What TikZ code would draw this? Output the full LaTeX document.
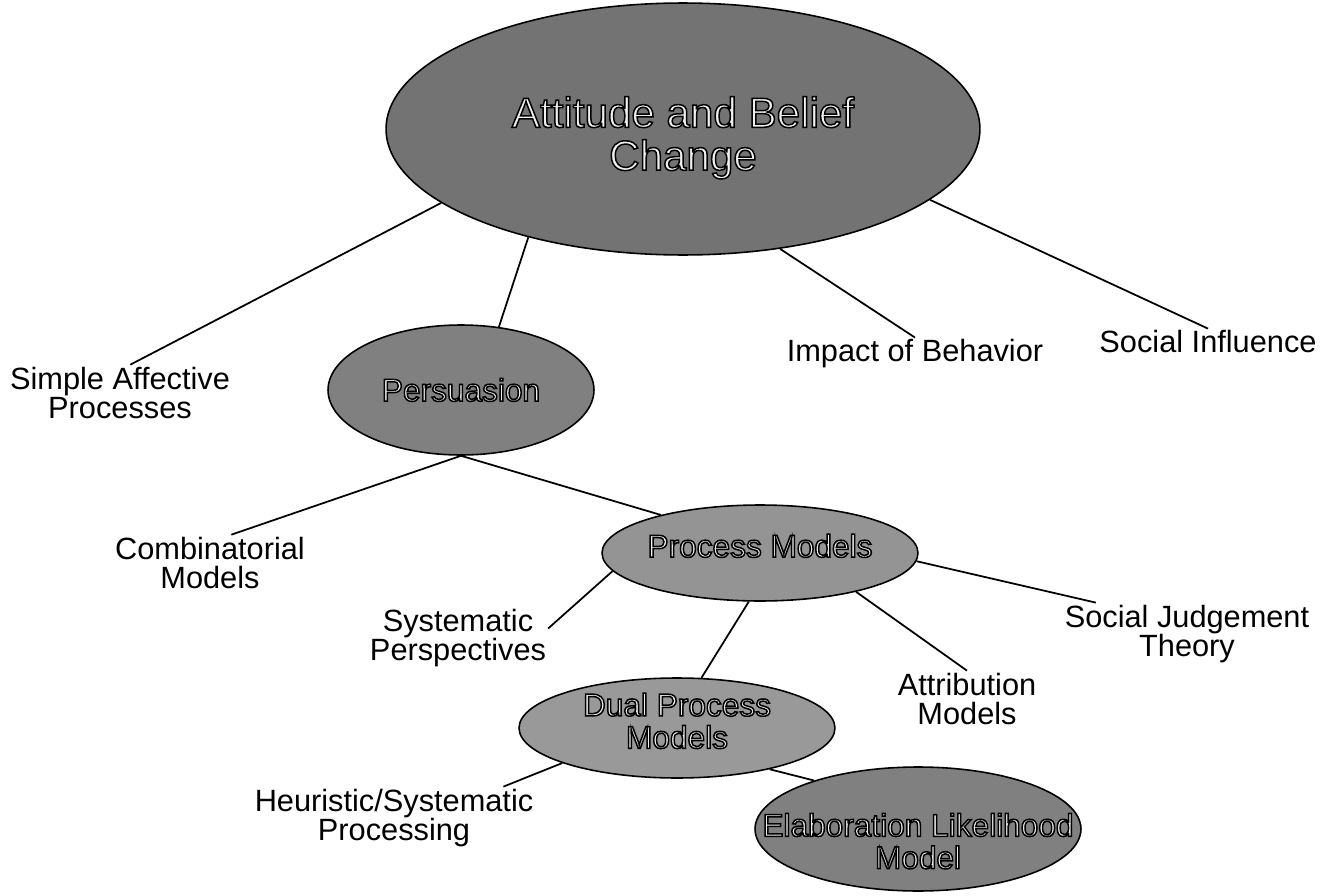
\documentclass[tikz,border=0pt]{standalone}
\usepackage{fontspec}
\setmainfont{Liberation Sans}
\usetikzlibrary{shapes.geometric,positioning}

% outlined text inside the ovals, kept out of the oval's size
\newcommand{\ovaltext}[2][0pt]{%
  \makebox[0pt]{\smash{\raisebox{\dimexpr-0.3ex-#1\relax}{%
  \special{pdf:literal direct 2 Tr 0.85 w 0 G}%
  \begin{tabular}{@{}c@{}}#2\end{tabular}%
  \special{pdf:literal direct 0 Tr}}}}}

\begin{document}
\begin{tikzpicture}[
    x=0.02cm,
    y=-0.02cm,
    font=\fontsize{17.5}{17}\selectfont,
    topic/.style={
        ellipse,
        draw=black,
        line width=0.9pt,
        fill=black!48,
        text=black!6,
        inner sep=0pt,
        font=\fontsize{18}{18}\selectfont
    },
    leaf/.style={
        inner sep=1pt,
        align=center,
        text=black
    },
    link/.style={line width=1pt}
]

\fill[white] (0,0) rectangle (1330,896);
\useasboundingbox (0,0) rectangle (1330,896);

% ellipses
\node[topic, fill=black!55, minimum width=11.88cm, minimum height=5.04cm,
      font=\fontsize{24}{23.5}\selectfont] (attitude) at (683,129)
{\ovaltext[8.5pt]{Attitude and Belief\\Change}};

\node[topic, fill=black!50, minimum width=5.32cm, minimum height=2.6cm] (persuasion) at (461,390)
{\ovaltext[4pt]{Persuasion}};

\node[topic, fill=black!42, minimum width=6.32cm, minimum height=1.92cm] (process) at (760,553)
{\ovaltext{Process Models}};

\node[topic, fill=black!40, minimum width=6.32cm, minimum height=2.0cm] (dual) at (677,728)
{\ovaltext{Dual Process\\Models}};

\node[topic, fill=black!50, minimum width=6.52cm, minimum height=2.48cm] (elm) at (918,829)
{\ovaltext[11pt]{Elaboration Likelihood\\Model}};

% plain labels
\node[leaf] (simple) at (120,393) {Simple Affective\\Processes};
\node[leaf] (impact) at (915,354) {Impact of Behavior};
\node[leaf] (social) at (1208,342) {Social Influence};
\node[leaf] (comb) at (210,563) {Combinatorial\\Models};
\node[leaf] (sys) at (458,638) {Systematic\\Perspectives};
\node[leaf] (sjt) at (1187,634) {Social Judgement\\Theory};
\node[leaf] (attr) at (967,699) {Attribution\\Models};
\node[leaf] (heur) at (394,818) {Heuristic/Systematic\\Processing};

% connectors
\draw[link] (attitude.197) -- (simple.70);
\draw[link] (attitude.215) -- (persuasion.59);
\draw[link] (attitude.309) -- (impact.north);
\draw[link] (attitude.344) -- (social.north);
\draw[link] (persuasion.south) -- (comb.53);
\draw[link] (persuasion.south) -- (process.159);
\draw[link] (process.187) -- (sys.6);
\draw[link] (process.357) -- (sjt.161);
\draw[link] (process.338) -- (attr.north);
\draw[link] (process.257) -- (dual.64);
\draw[link] (dual.197) -- (heur.16);
\draw[link] (dual.336) -- (elm.155);

\end{tikzpicture}
\end{document}
